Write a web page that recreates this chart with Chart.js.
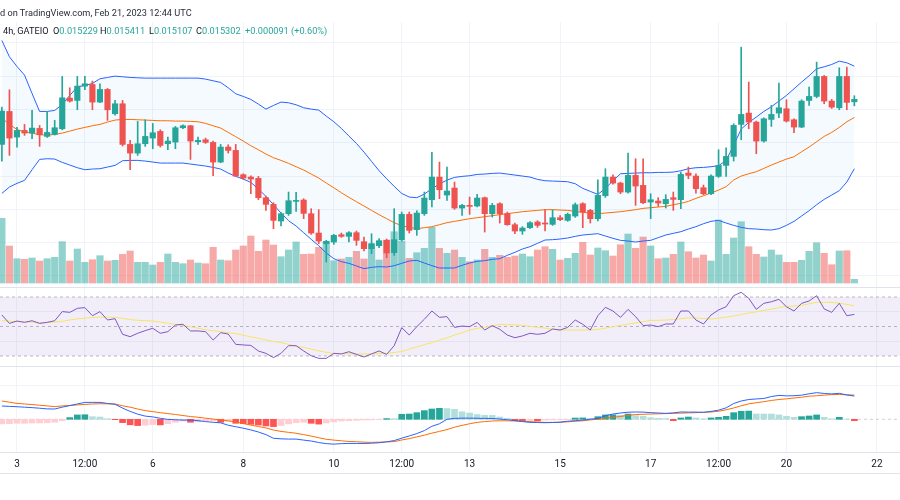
<!DOCTYPE html>
<html>
<head>
<meta charset="utf-8">
<script src="https://cdn.jsdelivr.net/npm/chart.js@4.4.0/dist/chart.umd.min.js"></script>
<style>
  html, body { margin: 0; padding: 0; background: #fff; }
  #wrap { position: relative; width: 900px; height: 500px; overflow: hidden; font-family: Roboto, "Liberation Sans", sans-serif; }
  #chart { position: absolute; left: 0; top: 0; }
  .hdr { position: absolute; font-size: 9.2px; color: #131722; white-space: nowrap; line-height: 12px; }
  .v { color: #26a69a; }
</style>
</head>
<body>
<div id="wrap">
  <canvas id="chart" width="900" height="500"></canvas>
  <div class="hdr" style="left:0px;top:7px;color:#2a2e39">d on TradingView.com, Feb 21, 2023 12:44 UTC</div>
  <div class="hdr" style="left:3px;top:25px">4h, GATEIO</div>
  <div class="hdr" style="left:53px;top:25px">O<span class="v" id="lgO"></span></div>
  <div class="hdr" style="left:100px;top:25px">H<span class="v" id="lgH"></span></div>
  <div class="hdr" style="left:149px;top:25px">L<span class="v" id="lgL"></span></div>
  <div class="hdr" style="left:196px;top:25px">C<span class="v" id="lgC"></span></div>
  <div class="hdr v" style="left:245px;top:25px" id="lgChg"></div>
</div>
<script>
// 4h candles, slot 0 = Feb 3 00:00, first candle shown is Feb 2 16:00
const firstSlot = -2;

const open = [
  0.01395, 0.01494, 0.01417, 0.01437, 0.01429, 0.01443, 0.01419, 0.01425, 0.01442, 0.01534, 0.01527, 0.01570,
  0.01575, 0.01522, 0.01560, 0.01487, 0.01517, 0.01395, 0.01369, 0.01397, 0.01414, 0.01434,
  0.01397, 0.01402, 0.01445, 0.01451, 0.01403, 0.01409, 0.01401, 0.01342, 0.01387, 0.01377,
  0.01304, 0.01297, 0.01293, 0.01235, 0.01215, 0.01165, 0.01187, 0.01224, 0.01228, 0.01187,
  0.01129, 0.01097, 0.01102, 0.01124, 0.01119, 0.01130, 0.01103, 0.01082, 0.01091, 0.01107,
  0.01070, 0.01109, 0.01185, 0.01139, 0.01187, 0.01229, 0.01297, 0.01243, 0.01264, 0.01204,
  0.01212, 0.01210, 0.01235, 0.01187, 0.01217, 0.01187, 0.01154, 0.01135, 0.01145, 0.01162,
  0.01159, 0.01155, 0.01175, 0.01167, 0.01180, 0.01217, 0.01197, 0.01172, 0.01241, 0.01297,
  0.01279, 0.01252, 0.01302, 0.01272, 0.01222, 0.01225, 0.01217, 0.01235, 0.01229, 0.01309,
  0.01300, 0.01265, 0.01247, 0.01299, 0.01332, 0.01359, 0.01455, 0.01489, 0.01462, 0.01405,
  0.01470, 0.01489, 0.01502, 0.01469, 0.01447, 0.01527, 0.01539, 0.01599, 0.01525, 0.01505, 0.01599, 0.015229
];
const high = [
  0.01507, 0.01559, 0.01446, 0.01455, 0.01497, 0.01452, 0.01494, 0.01467, 0.01599, 0.01565, 0.01599, 0.01599,
  0.01585, 0.01577, 0.01563, 0.01527, 0.01527, 0.01407, 0.01464, 0.01469, 0.01458, 0.01439,
  0.01417, 0.01449, 0.01454, 0.01452, 0.01417, 0.01414, 0.01405, 0.01395, 0.01394, 0.01395,
  0.01307, 0.01301, 0.01299, 0.01240, 0.01220, 0.01190, 0.01252, 0.01251, 0.01232, 0.01202,
  0.01199, 0.01107, 0.01125, 0.01129, 0.01133, 0.01135, 0.01117, 0.01127, 0.01112, 0.01111,
  0.01202, 0.01192, 0.01192, 0.01196, 0.01252, 0.01371, 0.01342, 0.01327, 0.01282, 0.01215,
  0.01237, 0.01245, 0.01237, 0.01218, 0.01220, 0.01192, 0.01159, 0.01148, 0.01163, 0.01166,
  0.01199, 0.01199, 0.01181, 0.01189, 0.01219, 0.01220, 0.01200, 0.01289, 0.01322, 0.01304,
  0.01282, 0.01369, 0.01352, 0.01352, 0.01247, 0.01235, 0.01244, 0.01252, 0.01312, 0.01327,
  0.01307, 0.01273, 0.01304, 0.01379, 0.01385, 0.01457, 0.01687, 0.01582, 0.01465, 0.01475,
  0.01512, 0.01579, 0.01529, 0.01472, 0.01529, 0.01567, 0.01642, 0.01602, 0.01530, 0.01625, 0.01627, 0.015411
];
const low = [
  0.01345, 0.01362, 0.01387, 0.01422, 0.01412, 0.01389, 0.01416, 0.01423, 0.01439, 0.01522, 0.01499, 0.01559,
  0.01499, 0.01520, 0.01467, 0.01483, 0.01390, 0.01319, 0.01362, 0.01389, 0.01382, 0.01387,
  0.01379, 0.01382, 0.01442, 0.01350, 0.01395, 0.01398, 0.01301, 0.01340, 0.01369, 0.01298,
  0.01290, 0.01247, 0.01229, 0.01197, 0.01142, 0.01150, 0.01182, 0.01194, 0.01172, 0.01125,
  0.01097, 0.01042, 0.01095, 0.01116, 0.01102, 0.01092, 0.01075, 0.01067, 0.01085, 0.01055,
  0.01062, 0.01105, 0.01129, 0.01122, 0.01182, 0.01207, 0.01232, 0.01227, 0.01200, 0.01182,
  0.01185, 0.01207, 0.01132, 0.01177, 0.01159, 0.01152, 0.01127, 0.01125, 0.01142, 0.01146,
  0.01135, 0.01152, 0.01166, 0.01164, 0.01176, 0.01145, 0.01159, 0.01165, 0.01236, 0.01276,
  0.01247, 0.01249, 0.01212, 0.01217, 0.01172, 0.01209, 0.01204, 0.01197, 0.01202, 0.01292,
  0.01249, 0.01244, 0.01244, 0.01296, 0.01299, 0.01345, 0.01409, 0.01442, 0.01367, 0.01402,
  0.01449, 0.01475, 0.01462, 0.01430, 0.01445, 0.01512, 0.01535, 0.01517, 0.01503, 0.01499, 0.01499, 0.015107
];
const close = [
  0.01495, 0.01414, 0.01437, 0.01429, 0.01444, 0.01424, 0.01431, 0.01445, 0.01535, 0.01525, 0.01570, 0.01577,
  0.01522, 0.01560, 0.01499, 0.01517, 0.01395, 0.01369, 0.01397, 0.01419, 0.01430, 0.01392,
  0.01405, 0.01445, 0.01451, 0.01405, 0.01407, 0.01401, 0.01342, 0.01387, 0.01377, 0.01300,
  0.01294, 0.01291, 0.01235, 0.01215, 0.01167, 0.01187, 0.01226, 0.01227, 0.01188, 0.01129,
  0.01105, 0.01104, 0.01122, 0.01119, 0.01130, 0.01107, 0.01082, 0.01097, 0.01106, 0.01069,
  0.01109, 0.01185, 0.01137, 0.01189, 0.01234, 0.01297, 0.01259, 0.01255, 0.01204, 0.01212,
  0.01209, 0.01234, 0.01187, 0.01212, 0.01187, 0.01154, 0.01135, 0.01144, 0.01160, 0.01152,
  0.01156, 0.01175, 0.01169, 0.01185, 0.01214, 0.01192, 0.01172, 0.01242, 0.01297, 0.01279,
  0.01252, 0.01302, 0.01270, 0.01220, 0.01229, 0.01219, 0.01230, 0.01230, 0.01305, 0.01302,
  0.01262, 0.01247, 0.01300, 0.01332, 0.01359, 0.01452, 0.01485, 0.01462, 0.01405, 0.01472,
  0.01485, 0.01505, 0.01465, 0.01447, 0.01525, 0.01539, 0.01599, 0.01525, 0.01507, 0.01599, 0.015211, 0.015302
];
const volume = [
  64700, 37000, 24300, 23700, 25000, 22000, 24300, 25700, 41300, 22000, 34000, 20700,
  23300, 27300, 22000, 22700, 28700, 32000, 20700, 20700, 18000, 20700,
  29000, 20700, 19300, 23000, 20000, 19300, 35700, 23000, 22300, 33000,
  37000, 47000, 31700, 43000, 38000, 26300, 33000, 41000, 28700, 29000,
  35700, 41300, 22300, 24000, 25700, 31700, 24000, 39000, 23000, 43000,
  51300, 42000, 24700, 30300, 34700, 55700, 34700, 29700, 33000, 25700,
  21300, 23000, 33700, 25700, 27700, 25700, 27000, 29000, 26300, 33000,
  36300, 33700, 23000, 24700, 29700, 40700, 28000, 35000, 32300, 27000,
  38300, 49000, 34700, 46000, 37000, 24300, 25000, 28700, 41000, 31300,
  25000, 28000, 22000, 63000, 28700, 45000, 61300, 36300, 28700, 26000,
  33000, 28000, 20700, 20700, 22700, 31700, 40300, 29700, 18300, 32000, 32300, 3700
];

// Bollinger Bands 20, 2
const bbUpper = [
  0.01707, 0.01658, 0.01629, 0.01603, 0.01548, 0.01494, 0.01494, 0.01497, 0.01515, 0.01542, 0.01568, 0.01572,
  0.01578, 0.01592, 0.01596, 0.01600, 0.01598, 0.01596, 0.01595, 0.01594, 0.01594, 0.01594,
  0.01594, 0.01594, 0.01594, 0.01594, 0.01594, 0.01591, 0.01586, 0.01581, 0.01565, 0.01547,
  0.01539, 0.01530, 0.01516, 0.01501, 0.01512, 0.01522, 0.01520, 0.01514, 0.01505, 0.01501,
  0.01498, 0.01480, 0.01463, 0.01443, 0.01420, 0.01398, 0.01372, 0.01344, 0.01316, 0.01292,
  0.01269, 0.01248, 0.01237, 0.01235, 0.01246, 0.01262, 0.01276, 0.01288, 0.01296, 0.01299,
  0.01301, 0.01305, 0.01306, 0.01308, 0.01309, 0.01306, 0.01303, 0.01300, 0.01297, 0.01290,
  0.01286, 0.01285, 0.01284, 0.01283, 0.01277, 0.01263, 0.01254, 0.01245, 0.01263, 0.01286,
  0.01307, 0.01308, 0.01309, 0.01310, 0.01310, 0.01311, 0.01311, 0.01312, 0.01316, 0.01322,
  0.01325, 0.01326, 0.01328, 0.01331, 0.01347, 0.01392, 0.01441, 0.01461, 0.01477, 0.01494,
  0.01508, 0.01525, 0.01542, 0.01562, 0.01582, 0.01601, 0.01622, 0.01628, 0.01635, 0.01645, 0.01640, 0.01630
];
const bbBasis = [
  0.01474, 0.01455, 0.01440, 0.01432, 0.01429, 0.01424, 0.01423, 0.01425, 0.01429, 0.01435, 0.01441, 0.01446,
  0.01451, 0.01455, 0.01462, 0.01468, 0.01470, 0.01470, 0.01469, 0.01468, 0.01467, 0.01466,
  0.01466, 0.01465, 0.01465, 0.01464, 0.01463, 0.01458, 0.01451, 0.01444, 0.01431, 0.01418,
  0.01405, 0.01391, 0.01379, 0.01366, 0.01355, 0.01347, 0.01338, 0.01328, 0.01318, 0.01306,
  0.01294, 0.01279, 0.01265, 0.01250, 0.01236, 0.01223, 0.01210, 0.01197, 0.01184, 0.01172,
  0.01160, 0.01151, 0.01146, 0.01142, 0.01145, 0.01148, 0.01154, 0.01160, 0.01164, 0.01168,
  0.01172, 0.01175, 0.01178, 0.01181, 0.01184, 0.01187, 0.01190, 0.01193, 0.01195, 0.01197,
  0.01199, 0.01199, 0.01198, 0.01197, 0.01194, 0.01191, 0.01189, 0.01187, 0.01189, 0.01191,
  0.01193, 0.01196, 0.01199, 0.01203, 0.01205, 0.01207, 0.01209, 0.01214, 0.01218, 0.01224,
  0.01233, 0.01241, 0.01249, 0.01258, 0.01268, 0.01288, 0.01300, 0.01307, 0.01313, 0.01323,
  0.01333, 0.01342, 0.01351, 0.01358, 0.01373, 0.01387, 0.01403, 0.01419, 0.01431, 0.01446, 0.01463, 0.01476
];
const bbLower = [
  0.01248, 0.01267, 0.01278, 0.01287, 0.01319, 0.01350, 0.01352, 0.01351, 0.01341, 0.01333, 0.01325, 0.01319,
  0.01321, 0.01322, 0.01327, 0.01332, 0.01346, 0.01347, 0.01347, 0.01345, 0.01342, 0.01339,
  0.01339, 0.01339, 0.01339, 0.01336, 0.01333, 0.01330, 0.01326, 0.01321, 0.01309, 0.01299,
  0.01291, 0.01281, 0.01261, 0.01239, 0.01214, 0.01189, 0.01166, 0.01150, 0.01130, 0.01110,
  0.01091, 0.01069, 0.01052, 0.01043, 0.01038, 0.01030, 0.01022, 0.01026, 0.01028, 0.01027,
  0.01031, 0.01038, 0.01045, 0.01047, 0.01039, 0.01031, 0.01024, 0.01024, 0.01024, 0.01032,
  0.01039, 0.01044, 0.01046, 0.01050, 0.01052, 0.01062, 0.01071, 0.01081, 0.01088, 0.01098,
  0.01108, 0.01109, 0.01111, 0.01114, 0.01119, 0.01123, 0.01125, 0.01127, 0.01120, 0.01113,
  0.01107, 0.01105, 0.01102, 0.01105, 0.01107, 0.01115, 0.01123, 0.01128, 0.01133, 0.01141,
  0.01148, 0.01157, 0.01164, 0.01167, 0.01159, 0.01152, 0.01146, 0.01142, 0.01141, 0.01139,
  0.01138, 0.01142, 0.01152, 0.01164, 0.01180, 0.01196, 0.01214, 0.01230, 0.01243, 0.01256, 0.01282, 0.01322
];

// RSI 14 and its moving average
const rsi = [
  57.8, 52.1, 53.7, 52.8, 53.9, 52.1, 52.8, 53.9, 60.1, 59.6, 62.3, 62.8,
  57.3, 60.1, 54.4, 55.3, 44.7, 43.1, 45.4, 47.2, 48.8, 45.4,
  46.5, 51.0, 51.5, 47.0, 47.0, 46.5, 40.8, 45.8, 44.9, 37.9,
  37.5, 37.2, 33.4, 31.8, 28.9, 31.8, 37.0, 37.0, 33.4, 30.2,
  28.4, 28.4, 31.8, 31.4, 32.9, 31.1, 29.3, 31.4, 33.4, 31.1,
  37.0, 49.2, 44.2, 49.9, 54.9, 60.5, 56.2, 56.7, 49.4, 50.3,
  49.9, 52.8, 47.6, 50.6, 48.1, 44.2, 42.4, 43.6, 45.4, 44.7,
  45.4, 48.3, 47.6, 49.4, 54.4, 51.5, 47.6, 57.3, 63.0, 60.5,
  56.2, 61.6, 56.7, 50.6, 51.0, 49.9, 51.7, 51.7, 60.5, 60.5,
  54.4, 51.7, 57.8, 61.2, 63.4, 70.9, 73.2, 69.1, 61.6, 65.7,
  66.8, 68.4, 63.4, 60.5, 65.7, 67.3, 70.9, 61.9, 59.6, 65.7, 57.3, 58.2
];
const rsiMa = [
  53.9, 53.6, 53.4, 53.2, 52.9, 52.6, 52.7, 53.0, 53.5, 54.4, 55.2, 55.7,
  56.1, 56.4, 56.3, 56.2, 55.5, 54.7, 54.2, 54.0, 53.7, 53.0,
  52.2, 51.4, 50.7, 49.9, 48.8, 47.8, 47.1, 46.5, 45.8, 45.2,
  44.1, 43.0, 42.0, 40.9, 39.8, 39.1, 37.9, 36.7, 35.8, 34.7,
  33.5, 32.5, 31.8, 31.6, 31.4, 31.4, 31.4, 31.4, 31.6, 31.8,
  32.4, 33.0, 34.7, 36.1, 37.7, 39.1, 40.8, 42.3, 44.2, 45.8,
  47.6, 48.7, 49.5, 50.5, 51.4, 51.3, 51.1, 50.8, 50.1, 49.5,
  48.9, 48.2, 47.6, 47.6, 47.6, 47.6, 47.6, 48.0, 48.9, 49.8,
  50.7, 51.6, 52.4, 53.2, 54.2, 54.2, 54.4, 54.7, 55.3, 55.9,
  55.8, 55.4, 55.1, 55.6, 56.4, 57.1, 58.1, 59.1, 59.9, 60.9,
  61.7, 62.9, 63.6, 63.9, 64.3, 65.4, 66.4, 66.4, 66.4, 65.8, 65.0, 64.1
];
const rsiLevels = [70, 50, 30];
const rsiGrid = [40, 60];

// MACD 12 26 9, values in units of 0.00001
const macd = [
  11.6, 11.3, 11.0, 10.6, 10.2, 9.7, 9.1, 9.0, 10.6, 12.0, 13.4, 14.8,
  14.8, 14.8, 13.9, 13.1, 9.8, 6.9, 4.5, 2.8, 2.1, 0.9,
  -0.1, -0.4, -0.7, -0.7, -1.2, -2.0, -2.6, -3.1, -5.2, -6.5,
  -7.8, -9.3, -11.1, -13.4, -16.6, -17.1, -17.3, -17.3, -18.2, -19.0,
  -20.3, -21.3, -21.7, -21.3, -21.1, -21.1, -21.1, -20.9, -20.5, -19.7,
  -18.6, -16.5, -14.6, -12.5, -9.9, -6.1, -3.9, 0.0, 0.8, 1.0,
  1.0, 0.9, 0.8, 0.7, 0.2, -0.4, -1.1, -2.0, -2.7, -2.8,
  -3.0, -2.8, -2.5, -1.7, -1.2, -0.7, 0.1, 0.7, 3.2, 4.6,
  5.5, 6.2, 6.4, 6.3, 5.8, 5.5, 5.2, 5.6, 6.4, 6.3,
  6.3, 6.1, 6.9, 8.0, 10.0, 13.8, 16.0, 17.3, 17.8, 18.2,
  19.9, 20.9, 20.5, 20.6, 21.1, 22.3, 23.3, 22.6, 22.2, 22.7, 21.3, 20.3
];
const macdSignal = [
  16.0, 15.0, 13.9, 13.4, 12.9, 12.3, 11.7, 11.1, 11.7, 12.1, 12.6, 13.0,
  13.4, 13.6, 13.5, 13.4, 11.8, 10.6, 9.0, 7.6, 6.7, 5.8,
  5.0, 4.2, 3.3, 2.4, 1.8, 1.0, 0.2, -0.6, -1.4, -2.3,
  -3.7, -5.1, -6.3, -7.5, -9.4, -10.6, -11.4, -12.2, -13.4, -14.7,
  -16.1, -17.5, -18.2, -18.8, -19.4, -19.6, -20.0, -20.2, -20.0, -19.8,
  -19.5, -18.1, -16.9, -15.4, -13.9, -12.1, -10.6, -9.0, -6.9, -5.3,
  -3.9, -2.7, -2.0, -1.5, -1.3, -1.3, -1.5, -1.8, -2.1, -2.4,
  -2.7, -2.7, -2.6, -2.2, -1.7, -1.3, -0.5, 0.0, 1.0, 1.7,
  2.5, 3.4, 4.2, 4.4, 4.6, 4.8, 5.0, 5.2, 5.4, 5.6,
  5.8, 6.1, 6.4, 7.0, 8.3, 9.9, 11.8, 13.5, 14.5, 15.4,
  16.5, 17.3, 17.9, 18.6, 19.3, 20.2, 20.6, 21.1, 21.6, 21.7, 21.4, 21.2
];
const macdHist = [
  -4.0, -3.8, -3.5, -3.5, -3.2, -3.2, -3.0, -2.6, -1.2, 1.5, 3.8, 4.0,
  2.3, 2.0, 0.5, -0.3, -2.9, -4.8, -5.5, -5.2, -4.6, -4.9,
  -3.8, -2.6, -1.5, -2.6, -2.2, -1.6, -1.2, -2.6, -1.5, -3.5,
  -3.8, -4.4, -5.0, -5.8, -6.4, -5.5, -4.0, -2.9, -2.6, -3.5,
  -4.2, -3.2, -2.3, -1.5, -1.2, -0.9, -0.6, -0.5, -0.3, 0.6,
  0.6, 4.4, 4.6, 5.8, 7.6, 9.0, 9.6, 9.4, 8.7, 6.6,
  5.5, 4.2, 3.5, 3.4, 2.0, 0.9, -1.2, -1.5, -1.2, -1.4,
  -0.6, -0.5, -0.3, -0.2, 1.1, 1.2, 0.6, 2.3, 3.8, 3.9,
  3.5, 4.6, 3.2, 2.6, 1.4, 0.9, 0.6, -1.2, 1.2, 2.0,
  1.2, 0.4, 1.2, 1.7, 2.6, 5.8, 7.0, 7.2, 4.7, 4.6,
  4.6, 3.8, 2.6, 1.7, 2.3, 2.9, 3.8, 1.7, 0.4, 1.7, 0.2, -1.2
];
const macdGrid = [30];

// x axis
const tickSlots = [0, 9, 18, 30, 42, 51, 60, 72, 84, 93, 102, 114];
const tickLabels = ['3', '12:00', '6', '8', '10', '12:00', '13', '15', '17', '12:00', '20', '22'];
const priceGrid = [0.010, 0.011, 0.012, 0.013, 0.014, 0.015, 0.016, 0.017];

// ---- layout (pixels) ----
const AREA_TOP = 22, AREA_BOTTOM = 452;
const SLOT_MIN = -2.25, SLOT_MAX = 117.05;
const PANE_SEPS = [287.5, 366.5];

// scale range so that vTop lands on pixel yTop and vBottom on yBottom
function fitRange(yTop, vTop, yBottom, vBottom) {
  const perPx = (vTop - vBottom) / (yBottom - yTop);
  return { min: vBottom - (AREA_BOTTOM - yBottom) * perPx, max: vTop + (yTop - AREA_TOP) * perPx };
}
const priceRange = fitRange(42.8, 0.017, 276, 0.010);
const volRange = fitRange(183, 100000, 283, 0);
const rsiRange = fitRange(297, 70, 356, 30);
const macdRange = fitRange(385, 30, 419.3, 0);

const UP = '#26a69a', DOWN = '#ef5350';
const GRID = '#f0f3fa';
const DASH = 'rgba(120,123,134,0.5)';

const xs = open.map((_, k) => firstSlot + k);
const pts = arr => arr.map((v, k) => ({ x: xs[k], y: v }));
const isUp = k => close[k] >= open[k];

// legend line from the last candle
const last = close.length - 1;
const chg = close[last] - close[last - 1];
document.getElementById('lgO').textContent = open[last].toFixed(6);
document.getElementById('lgH').textContent = high[last].toFixed(6);
document.getElementById('lgL').textContent = low[last].toFixed(6);
document.getElementById('lgC').textContent = close[last].toFixed(6);
document.getElementById('lgChg').textContent =
  (chg >= 0 ? '+' : '') + chg.toFixed(6) + ' (' + (chg >= 0 ? '+' : '') + (chg / close[last - 1] * 100).toFixed(2) + '%)';

function yScale(range, extra) {
  return Object.assign({
    type: 'linear', position: 'right', min: range.min, max: range.max,
    ticks: { display: false }, border: { display: false },
    grid: { display: false },
    afterFit: s => { s.width = 0; }
  }, extra);
}

function levelLine(v, axis, opts) {
  return Object.assign({
    type: 'line', yAxisID: axis,
    data: [{ x: SLOT_MIN, y: v }, { x: SLOT_MAX, y: v }],
    borderColor: DASH, borderWidth: 1, borderDash: [3, 3], pointRadius: 0, fill: false, order: 9
  }, opts);
}

const paneLines = {
  id: 'paneLines',
  afterDatasetsDraw(chart) {
    const ctx = chart.ctx;
    ctx.save();
    ctx.strokeStyle = '#e0e3eb';
    ctx.lineWidth = 1;
    ctx.beginPath();
    PANE_SEPS.forEach(y => { ctx.moveTo(0, y); ctx.lineTo(chart.width, y); });
    ctx.moveTo(0, 473.5); ctx.lineTo(chart.width, 473.5);
    ctx.stroke();
    ctx.restore();
  }
};

new Chart(document.getElementById('chart'), {
  type: 'bar',
  data: {
    datasets: [
      // candles
      {
        type: 'bar', yAxisID: 'yPrice', grouped: false, barThickness: 5.5, minBarLength: 1,
        data: open.map((o, k) => ({ x: xs[k], y: [o, close[k]] })),
        backgroundColor: c => isUp(c.dataIndex) ? UP : DOWN, order: 0
      },
      {
        type: 'bar', yAxisID: 'yPrice', grouped: false, barThickness: 1,
        data: low.map((l, k) => ({ x: xs[k], y: [l, high[k]] })),
        backgroundColor: c => isUp(c.dataIndex) ? UP : DOWN, order: 1
      },
      // Bollinger
      { type: 'line', yAxisID: 'yPrice', data: pts(bbBasis), borderColor: '#ff6d00', borderWidth: 1, pointRadius: 0, order: 2 },
      { type: 'line', yAxisID: 'yPrice', data: pts(bbUpper), borderColor: '#2962ff', borderWidth: 1, pointRadius: 0,
        fill: '+1', backgroundColor: 'rgba(33,150,243,0.05)', order: 3 },
      { type: 'line', yAxisID: 'yPrice', data: pts(bbLower), borderColor: '#2962ff', borderWidth: 1, pointRadius: 0, order: 3 },
      // volume
      {
        type: 'bar', yAxisID: 'yVol', grouped: false, barThickness: 6.5,
        data: pts(volume),
        backgroundColor: c => isUp(c.dataIndex) ? 'rgba(38,166,154,0.5)' : 'rgba(239,83,80,0.5)', order: 6
      },
      // RSI
      { type: 'line', yAxisID: 'yRsi', data: pts(rsi), borderColor: '#7e57c2', borderWidth: 1, pointRadius: 0, order: 2 },
      { type: 'line', yAxisID: 'yRsi', data: pts(rsiMa), borderColor: '#f7e464', borderWidth: 1, pointRadius: 0, order: 3 },
      levelLine(rsiLevels[0], 'yRsi', { fill: '+1', backgroundColor: 'rgba(126,87,194,0.1)' }),
      levelLine(rsiLevels[2], 'yRsi'),
      levelLine(rsiLevels[1], 'yRsi'),
      // MACD
      { type: 'line', yAxisID: 'yMacd', data: pts(macd), borderColor: '#2962ff', borderWidth: 1, pointRadius: 0, order: 2 },
      { type: 'line', yAxisID: 'yMacd', data: pts(macdSignal), borderColor: '#ff6d00', borderWidth: 1, pointRadius: 0, order: 3 },
      {
        type: 'bar', yAxisID: 'yMacd', grouped: false, barThickness: 6,
        data: pts(macdHist),
        backgroundColor: c => {
          const k = c.dataIndex, v = macdHist[k], prev = k > 0 ? macdHist[k - 1] : v;
          if (v >= 0) return v > prev ? '#26a69a' : '#b2dfdb';
          return v < prev ? '#ff5252' : '#ffcdd2';
        },
        order: 5
      },
      levelLine(0, 'yMacd', { borderColor: 'rgba(120,123,134,0.35)' })
    ]
  },
  options: {
    responsive: false,
    animation: false,
    devicePixelRatio: 1,
    events: [],
    layout: { padding: { top: AREA_TOP, left: 0, right: 0, bottom: 0 } },
    plugins: { legend: { display: false }, tooltip: { enabled: false } },
    scales: {
      x: {
        type: 'linear', min: SLOT_MIN, max: SLOT_MAX, offset: false,
        afterBuildTicks: s => { s.ticks = tickSlots.map(v => ({ value: v })); },
        afterFit: s => { s.height = 500 - AREA_BOTTOM; },
        ticks: {
          callback: (v, i) => tickLabels[i], autoSkip: false, maxRotation: 0, padding: 6,
          color: '#131722', font: { family: 'Roboto', size: 10 }
        },
        grid: { color: GRID, drawTicks: false, offset: false },
        border: { color: '#e0e3eb' }
      },
      yPrice: yScale(priceRange, {
        grid: { color: GRID, drawTicks: false },
        afterBuildTicks: s => { s.ticks = priceGrid.map(v => ({ value: v })); }
      }),
      yVol: yScale(volRange, { display: false }),
      yRsi: yScale(rsiRange, {
        grid: { color: GRID, drawTicks: false },
        afterBuildTicks: s => { s.ticks = rsiGrid.map(v => ({ value: v })); }
      }),
      yMacd: yScale(macdRange, {
        grid: { color: GRID, drawTicks: false },
        afterBuildTicks: s => { s.ticks = macdGrid.map(v => ({ value: v })); }
      })
    }
  },
  plugins: [paneLines]
});
</script>
</body>
</html>
